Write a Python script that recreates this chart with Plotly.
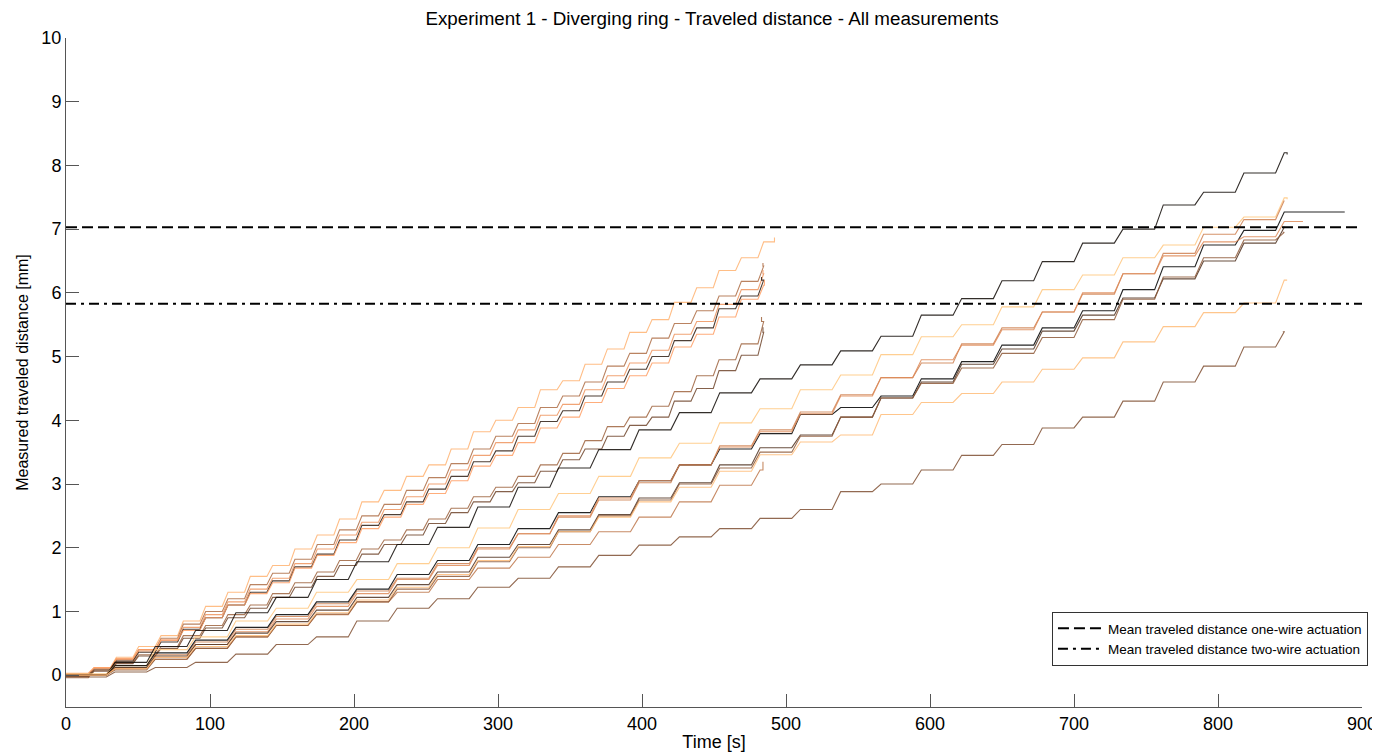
import plotly.graph_objects as go

# ---------------- data ----------------
X_TICKS = [0, 100, 200, 300, 400, 500, 600, 700, 800, 900]
Y_TICKS = [0, 1, 2, 3, 4, 5, 6, 7, 8, 9, 10]

MEAN_ONE_WIRE = 7.03
MEAN_TWO_WIRE = 5.83

# step times (s): short-period runs and long-period runs
T_SHORT = [0, 15.5, 31, 46.5, 62, 77.5, 93, 108.5, 124, 139.5, 155, 170.5, 186, 201.5,
           217, 232.5, 248, 263.5, 279, 294.5, 310, 325.5, 341, 356.5, 372, 387.5,
           403, 418.5, 434, 449.5, 465, 480.5]
T_LONG = [0, 28, 56, 84, 112, 140, 168, 196, 224, 252, 280, 308, 336, 364, 392, 420,
          448, 476, 504, 532, 560, 588, 616, 644, 672, 700, 728, 756, 784, 812, 840]

A1_Y = [0.0, 0.12, 0.28, 0.45, 0.62, 0.85, 1.08, 1.3, 1.55, 1.72, 1.98, 2.2, 2.45, 2.72, 2.9,
        3.12, 3.3, 3.55, 3.82, 4.0, 4.2, 4.48, 4.62, 4.88, 5.12, 5.38, 5.58, 5.85, 6.08,
        6.35, 6.55, 6.8]
A2_Y = [0.02, 0.1, 0.25, 0.4, 0.58, 0.8, 1.0, 1.2, 1.42, 1.6, 1.82, 2.05, 2.28, 2.5, 2.68, 2.9,
        3.1, 3.32, 3.55, 3.75, 3.95, 4.2, 4.38, 4.6, 4.85, 5.05, 5.29, 5.52, 5.72, 5.95,
        6.18, 6.42]
A3_Y = [-0.02, 0.1, 0.24, 0.38, 0.55, 0.75, 0.95, 1.15, 1.35, 1.52, 1.75, 1.98, 2.2, 2.4, 2.6,
        2.8, 3.0, 3.22, 3.45, 3.65, 3.85, 4.08, 4.25, 4.48, 4.7, 4.9, 5.1, 5.35, 5.55, 5.82,
        6.05, 6.3]
A4_Y = [0, 0.08, 0.22, 0.36, 0.52, 0.72, 0.9, 1.1, 1.3, 1.48, 1.7, 1.9, 2.12, 2.35, 2.52,
        2.72, 2.92, 3.12, 3.35, 3.52, 3.75, 3.98, 4.15, 4.38, 4.6, 4.8, 5.0, 5.25, 5.45,
        5.75, 5.95, 6.2]
A5_Y = [0.03, 0.12, 0.26, 0.4, 0.55, 0.7, 0.9, 1.1, 1.28, 1.45, 1.68, 1.88, 2.08, 2.3, 2.48,
        2.68, 2.85, 3.05, 3.28, 3.45, 3.65, 3.88, 4.05, 4.28, 4.5, 4.7, 4.9, 5.15, 5.35,
        5.62, 5.9, 6.12]
A6_Y = [-0.04, 0.08, 0.2, 0.32, 0.45, 0.62, 0.78, 0.95, 1.1, 1.28, 1.45, 1.62, 1.8, 1.98, 2.12,
        2.28, 2.45, 2.62, 2.8, 2.95, 3.12, 3.3, 3.48, 3.68, 3.9, 4.05, 4.22, 4.45, 4.7,
        4.95, 5.2, 5.55]
A7_Y = [-0.02, 0.06, 0.18, 0.3, 0.42, 0.58, 0.74, 0.9, 1.05, 1.22, 1.38, 1.55, 1.72, 1.9, 2.05,
        2.2, 2.38, 2.55, 2.72, 2.88, 3.02, 3.2, 3.38, 3.55, 3.75, 3.92, 4.05, 4.3, 4.5,
        4.78, 5.02, 5.38]
A8_Y = [0, 0.1, 0.25, 0.42, 0.6, 0.78, 0.95, 1.15, 1.3, 1.5, 1.68, 1.85, 2.05, 2.25, 2.48,
        2.72, 2.98, 3.22]

B1_Y = [0, 0.2, 0.45, 0.7, 0.98, 1.22, 1.5, 1.78, 2.05, 2.32, 2.64, 2.95, 3.25, 3.54, 3.85,
        4.12, 4.43, 4.65, 4.87, 5.09, 5.32, 5.65, 5.91, 6.19, 6.49, 6.78, 7.0, 7.38, 7.58,
        7.88, 8.2]
B2_Y = [0.02, 0.15, 0.4, 0.6, 0.85, 1.05, 1.3, 1.5, 1.75, 2.0, 2.31, 2.6, 2.85, 3.12, 3.41,
        3.64, 3.96, 4.18, 4.48, 4.71, 5.03, 5.31, 5.5, 5.78, 6.05, 6.28, 6.55, 6.75, 7.03,
        7.19, 7.49]
B3_Y = [0, 0.12, 0.32, 0.52, 0.72, 0.92, 1.12, 1.32, 1.52, 1.75, 2.0, 2.22, 2.48, 2.75, 3.02,
        3.3, 3.6, 3.85, 4.13, 4.4, 4.67, 4.9, 5.2, 5.45, 5.7, 5.98, 6.3, 6.62, 6.92, 7.15,
        7.45]
B4_Y = [0, 0.15, 0.35, 0.55, 0.75, 0.95, 1.15, 1.35, 1.58, 1.8, 2.05, 2.3, 2.55, 2.8, 3.05,
        3.3, 3.55, 3.79, 4.09, 4.2, 4.38, 4.65, 4.92, 5.18, 5.45, 5.72, 6.05, 6.41, 6.75,
        6.98, 7.27]
B5_Y = [0, 0.1, 0.28, 0.48, 0.68, 0.88, 1.08, 1.28, 1.5, 1.72, 1.98, 2.22, 2.5, 2.78, 3.05,
        3.3, 3.58, 3.82, 4.1, 4.38, 4.67, 4.95, 5.18, 5.42, 5.7, 6.0, 6.3, 6.58, 6.8, 6.88,
        7.12]
B6_Y = [0, 0.12, 0.3, 0.48, 0.66, 0.84, 1.02, 1.22, 1.42, 1.62, 1.85, 2.05, 2.28, 2.52, 2.78,
        3.02, 3.3, 3.57, 3.77, 4.05, 4.35, 4.6, 4.88, 5.12, 5.4, 5.65, 5.92, 6.22, 6.5, 6.78,
        7.03]
B7_Y = [0, 0.08, 0.25, 0.42, 0.6, 0.78, 0.96, 1.15, 1.35, 1.55, 1.78, 2.0, 2.25, 2.5, 2.75,
        3.0, 3.25, 3.5, 3.75, 4.05, 4.35, 4.58, 4.82, 5.05, 5.3, 5.58, 5.9, 6.25, 6.55, 6.83,
        6.95]
B8_Y = [0, 0.1, 0.28, 0.45, 0.62, 0.8, 0.98, 1.18, 1.38, 1.58, 1.8, 2.02, 2.25, 2.48, 2.72,
        2.95, 3.2, 3.46, 3.66, 3.77, 4.09, 4.28, 4.42, 4.6, 4.8, 4.98, 5.23, 5.47, 5.69, 5.84,
        6.2]
B9_Y = [-0.03, 0.05, 0.12, 0.2, 0.33, 0.48, 0.6, 0.85, 1.05, 1.2, 1.38, 1.52, 1.7, 1.88, 2.04,
        2.17, 2.3, 2.46, 2.6, 2.88, 3.0, 3.22, 3.45, 3.62, 3.88, 4.05, 4.3, 4.6, 4.85, 5.15,
        5.39]

# final sample of each run: (time [s], distance [mm])
END_POINTS = {
    "A1": (492, 6.87), "A2": (484, 6.47), "A3": (484, 6.36), "A4": (483, 6.25),
    "A5": (485, 6.2), "A6": (483, 5.62), "A7": (484, 5.46), "A8": (484, 3.35),
    "B1": (848, 8.17), "B2": (848, 7.47), "B3": (846, 7.45), "B4": (888, 7.27),
    "B5": (859, 7.12), "B6": (845, 7.03), "B7": (845, 6.95), "B8": (848, 6.2),
    "B9": (845, 5.39),
}

# ---------------- styles ----------------
COLORS = {
    "A1": "#ffb372", "A2": "#af6e46", "A3": "#ef955f", "A4": "#301e13",
    "A5": "#ff9f65", "A6": "#9f643f", "A7": "#70462c", "A8": "#bf784c",
    "B1": "#100a06", "B2": "#ffc77f", "B3": "#cf8152", "B4": "#000000",
    "B5": "#df8b59", "B6": "#503220", "B7": "#8f5a39", "B8": "#ffbd79",
    "B9": "#805033",
}
RAMP = {"A": 4.0, "B": 6.0}   # seconds each actuation step takes to rise

runs = [
    ("A1", T_SHORT, A1_Y), ("A2", T_SHORT, A2_Y), ("A3", T_SHORT, A3_Y),
    ("A4", T_SHORT, A4_Y), ("A5", T_SHORT, A5_Y), ("A6", T_SHORT, A6_Y),
    ("A7", T_SHORT, A7_Y), ("A8", T_LONG[:len(A8_Y)], A8_Y),
    ("B1", T_LONG, B1_Y), ("B2", T_LONG, B2_Y), ("B3", T_LONG, B3_Y),
    ("B4", T_LONG, B4_Y), ("B5", T_LONG, B5_Y), ("B6", T_LONG, B6_Y),
    ("B7", T_LONG, B7_Y), ("B8", T_LONG, B8_Y), ("B9", T_LONG, B9_Y),
]


def step_path(t, y, end, ramp):
    """Plateaus joined by short ramps (the actuator's rise)."""
    te, ye = end
    xs, ys = [], []
    for k in range(len(t)):
        start = t[k] + (ramp if k > 0 else 0.0)
        stop = t[k + 1] if k + 1 < len(t) else te
        xs += [start, stop]
        ys += [y[k], y[k]]
    xs.append(te)
    ys.append(ye)
    return xs, ys


FONT = "Liberation Sans, Arial, Helvetica, sans-serif"

# the page places the figure 8 px from the top-left corner of the window
W, H = 1372, 744

fig = go.Figure()
for name, t, y in runs:
    xs, ys = step_path(t, y, END_POINTS[name], RAMP["A" if len(t) == len(T_SHORT) else "B"])
    fig.add_trace(go.Scatter(
        x=xs, y=ys, mode="lines",
        line=dict(color=COLORS[name], width=1.1),
        opacity=0.85, showlegend=False, hoverinfo="skip"))

fig.add_trace(go.Scatter(
    x=[X_TICKS[0], X_TICKS[-1]], y=[MEAN_ONE_WIRE, MEAN_ONE_WIRE], mode="lines",
    line=dict(color="black", width=2, dash="11px,5px"),
    name="Mean traveled distance one-wire actuation"))
fig.add_trace(go.Scatter(
    x=[X_TICKS[0], X_TICKS[-1]], y=[MEAN_TWO_WIRE, MEAN_TWO_WIRE], mode="lines",
    line=dict(color="black", width=2, dash="10px,5px,3px,5px"),
    name="Mean traveled distance two-wire actuation"))

fig.update_layout(
    width=W, height=H,
    margin=dict(l=58, r=18, t=30, b=45, autoexpand=False),
    paper_bgcolor="white", plot_bgcolor="white",
    font=dict(family=FONT, color="black", size=17),
    title=dict(text="Experiment 1 - Diverging ring - Traveled distance - All measurements",
               x=704 / W, xanchor="center", y=1 - 10 / H, yanchor="middle",
               yref="container", font=dict(size=18.8, family=FONT)),
    legend=dict(x=1.0046, xanchor="right", y=0.142, yanchor="top",
                bgcolor="white", bordercolor="#333", borderwidth=1,
                font=dict(size=13.5, family=FONT), tracegroupgap=0,
                itemwidth=45),
    showlegend=True,
)
fig.update_xaxes(
    range=[0, 900], tickvals=X_TICKS, ticktext=[str(v) for v in X_TICKS],
    ticks="inside", ticklen=13, tickcolor="#555", showline=True, linecolor="#555",
    linewidth=1, showgrid=False, zeroline=False, mirror=False, automargin=False,
    tickfont=dict(size=18), title=dict(text="Time [s]", font=dict(size=18), standoff=2))
fig.update_yaxes(
    range=[-0.5, 10], tickvals=Y_TICKS, ticktext=[str(v) for v in Y_TICKS],
    ticks="inside", ticklen=13, tickcolor="#555", showline=True, linecolor="#555",
    linewidth=1, showgrid=False, zeroline=False, mirror=False, automargin=False,
    tickfont=dict(size=18),
    title=dict(text="Measured traveled distance [mm]", font=dict(size=16), standoff=8))

fig.write_html("out.html")
